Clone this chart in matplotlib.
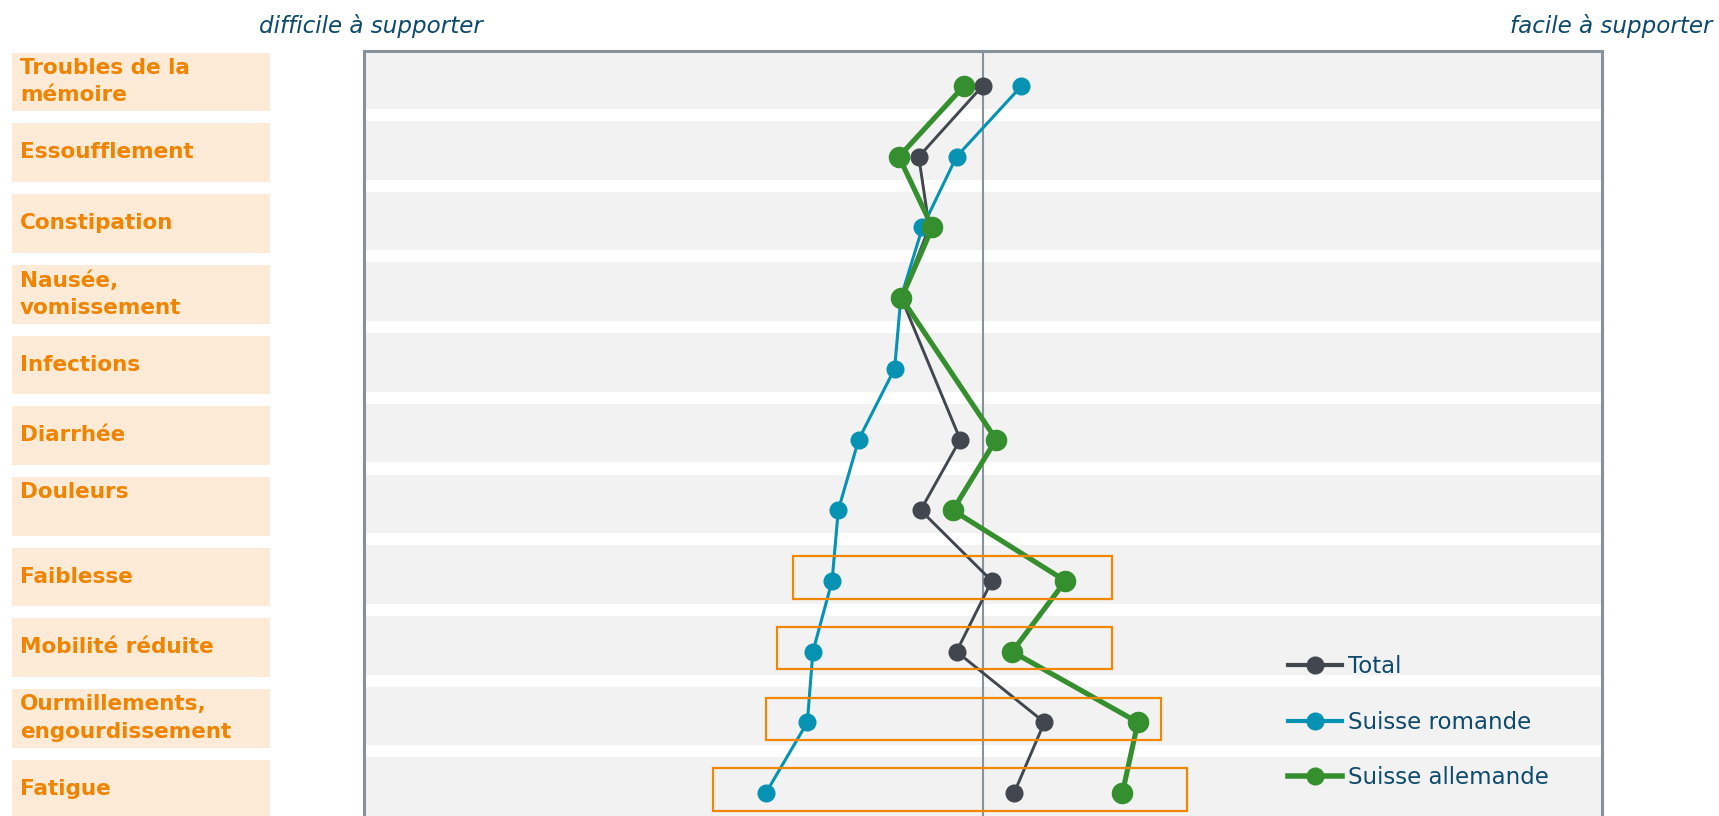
import numpy as np
import matplotlib
matplotlib.use("Agg")
import matplotlib.pyplot as plt
from matplotlib.patches import Rectangle
from matplotlib.lines import Line2D

# --- data -------------------------------------------------------------
symptoms = [
    "Troubles de la\nmémoire",
    "Essoufflement",
    "Constipation",
    "Nausée,\nvomissement",
    "Infections",
    "Diarrhée",
    "Douleurs\n ",
    "Faiblesse",
    "Mobilité réduite",
    "Ourmillements,\nengourdissement",
    "Fatigue",
]
# position on the "difficile" (-) / "facile" (+) scale
total = [0.0, -10.3, -8.6, -13.1, np.nan, -3.6, -10.0, 1.5, -4.2, 10.0, 5.1]
suisse_romande = [6.3, -4.2, -9.7, -13.2, -14.2, -20.0, -23.3, -24.3, -27.4, -28.3, -35.0]
suisse_allemande = [-3.0, -13.5, -8.1, -13.1, np.nan, 2.2, -4.8, 13.4, 4.8, 25.1, 22.6]
series_names = ["Total", "Suisse romande", "Suisse allemande"]

# highlighted symptoms: row index, left and right extent on the scale
highlight_rows = [7, 8, 9, 10]
highlight_left = [-30.6, -33.2, -34.9, -43.5]
highlight_right = [21.0, 21.0, 28.9, 33.0]

# --- style ------------------------------------------------------------
W, H = 1719, 816
DPI = 100
c_total = "#41464f"
c_rom = "#0592b3"
c_all = "#368f2e"
c_orange = "#f28705"
c_label_bg = "#fdebd7"
c_label_fg = "#f08400"
c_text = "#0d4a6b"
c_frame = "#87919b"

fig = plt.figure(figsize=(W / DPI, H / DPI), dpi=DPI)

ax_left, ax_right, ax_top = 363.5, 1601.5, 50.5
ax = fig.add_axes([ax_left / W, 0, (ax_right - ax_left) / W, 1 - ax_top / H])
n = len(symptoms)
rows = np.arange(n)
ylim = (10.325, -0.502)
ax.set_xlim(-100, 100)
ax.set_ylim(*ylim)
ax.set_facecolor("white")

for i in rows:
    ax.axhspan(i - 0.505, i + 0.325, color="#f2f2f2", lw=0, zorder=0)

ax.axvline(0, color="#88929c", lw=1.5, zorder=1)

def draw(values, color, lw, ms, z):
    v = np.asarray(values, dtype=float)
    m = ~np.isnan(v)
    ax.plot(v[m], rows[m], color=color, lw=lw, marker="o", ms=ms,
            solid_capstyle="round", zorder=z)

draw(total, c_total, 2.1, 12, 3)
draw(suisse_romande, c_rom, 2.2, 12, 4)
draw(suisse_allemande, c_all, 3.7, 14.5, 5)

for r, x0, x1 in zip(highlight_rows, highlight_left, highlight_right):
    ax.add_patch(Rectangle((x0, r - 0.35), x1 - x0, 0.6, fill=False,
                           ec=c_orange, lw=1.6, zorder=6))

for side in ("left", "top", "right"):
    ax.spines[side].set_color(c_frame)
    ax.spines[side].set_linewidth(2.2)
ax.spines["bottom"].set_visible(False)
ax.set_xticks([])
ax.set_yticks([])

# symptom labels on the left
lab = fig.add_axes([12 / W, 0, (270 - 12) / W, 1 - ax_top / H])
lab.set_xlim(0, 258)
lab.set_ylim(*ylim)
lab.axis("off")
for i, name in enumerate(symptoms):
    lab.add_patch(Rectangle((0, i - 0.47), 258, 0.83, color=c_label_bg, lw=0))
    lab.text(8, i - 0.06, name, ha="left", va="center", color=c_label_fg,
             fontsize=15.5, fontweight="bold", family="DejaVu Sans",
             linespacing=1.45)

# scale direction captions
fig.text(259 / W, 1 - 33 / H, "difficile à supporter", ha="left", va="baseline",
         fontsize=16.6, style="italic", color=c_text)
fig.text(1712 / W, 1 - 33 / H, "facile à supporter", ha="right", va="baseline",
         fontsize=16.6, style="italic", color=c_text)

handles = [
    Line2D([], [], color=c_total, lw=3, marker="o", ms=12),
    Line2D([], [], color=c_rom, lw=3, marker="o", ms=12),
    Line2D([], [], color=c_all, lw=4, marker="o", ms=12),
]
fig.legend(handles, series_names, loc="upper left",
           bbox_to_anchor=(1288 / W, 1 - 655 / H), frameon=False,
           borderpad=0, borderaxespad=0, handlelength=2.36, handletextpad=0.25,
           labelspacing=1.42, prop={"size": 16.5}, labelcolor=c_text)

fig.savefig("out.png", dpi=DPI)
